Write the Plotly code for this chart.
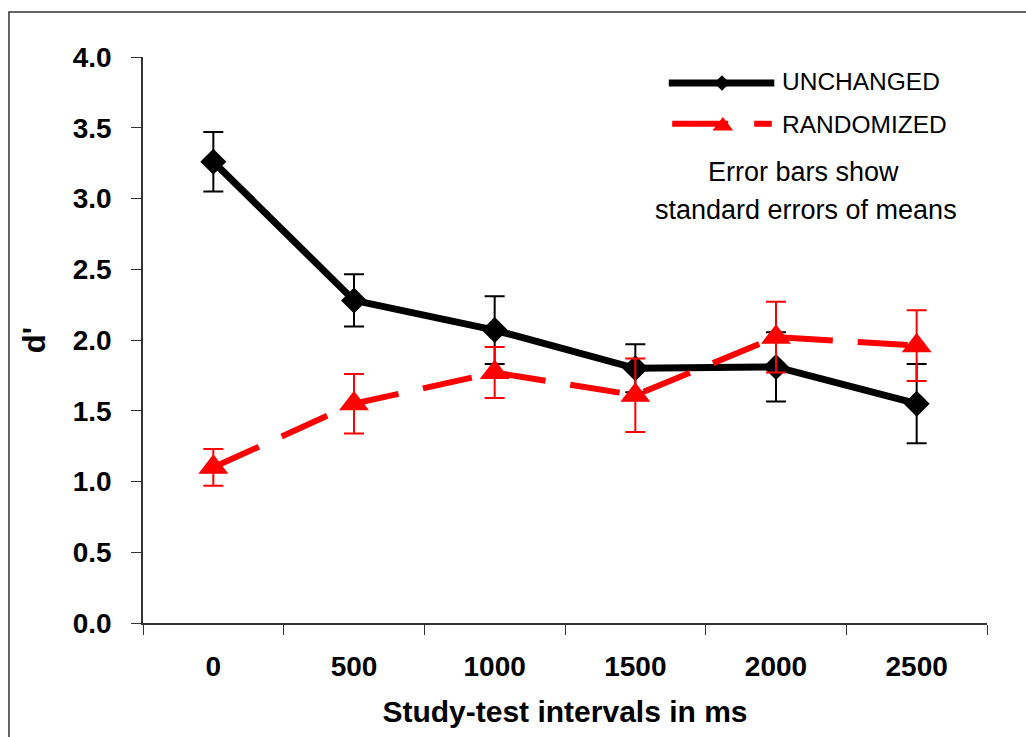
import plotly.graph_objects as go

# Study-test interval categories (ms)
intervals = ["0", "500", "1000", "1500", "2000", "2500"]

# Mean d' per condition and standard errors of the means
unchanged = [3.26, 2.28, 2.07, 1.80, 1.81, 1.55]
unchanged_se = [0.21, 0.185, 0.24, 0.17, 0.245, 0.28]
randomized = [1.10, 1.55, 1.77, 1.61, 2.02, 1.96]
randomized_se = [0.13, 0.21, 0.18, 0.26, 0.25, 0.25]

y_ticks = [0.0, 0.5, 1.0, 1.5, 2.0, 2.5, 3.0, 3.5, 4.0]

FONT = "Liberation Sans Narrow, Arial Narrow, Liberation Sans, Arial, sans-serif"
BLACK = "#000000"
RED = "#ff0000"
DASH = "50px,25px"

fig = go.Figure()

fig.add_trace(go.Scatter(
    x=intervals, y=unchanged, name="UNCHANGED", mode="lines+markers",
    line=dict(color=BLACK, width=7),
    marker=dict(symbol="diamond", size=20, color=BLACK),
    error_y=dict(type="data", array=unchanged_se, visible=True,
                 color=BLACK, thickness=2, width=10),
    showlegend=False,
))
fig.add_trace(go.Scatter(
    x=intervals, y=randomized, name="RANDOMIZED", mode="lines+markers",
    line=dict(color=RED, width=6, dash=DASH),
    marker=dict(symbol="triangle-up", size=26, color=RED),
    error_y=dict(type="data", array=randomized_se, visible=True,
                 color=RED, thickness=2, width=10),
    showlegend=False,
))

# Hand-drawn key on an overlay axis spanning the plot area (0..1)
fig.add_trace(go.Scatter(
    x=[0.623, 0.686, 0.748], y=[0.954, 0.954, 0.954], xaxis="x2", yaxis="y2",
    mode="lines", line=dict(color=BLACK, width=7), showlegend=False,
    hoverinfo="skip",
))
fig.add_trace(go.Scatter(
    x=[0.686], y=[0.954], xaxis="x2", yaxis="y2", mode="markers",
    marker=dict(symbol="diamond", size=12, color=BLACK), showlegend=False,
    hoverinfo="skip",
))
fig.add_trace(go.Scatter(
    x=[0.627, 0.745], y=[0.882, 0.882], xaxis="x2", yaxis="y2",
    mode="lines", line=dict(color=RED, width=6, dash="56px,26px"),
    showlegend=False, hoverinfo="skip",
))
fig.add_trace(go.Scatter(
    x=[0.687], y=[0.878], xaxis="x2", yaxis="y2", mode="markers",
    marker=dict(symbol="triangle-up", size=18, color=RED), showlegend=False,
    hoverinfo="skip",
))

key_font = dict(family=FONT, size=24.5, color=BLACK)
note_font = dict(family=FONT, size=27, color=BLACK)
annotations = [
    dict(text="UNCHANGED", x=0.7547, y=0.956, xanchor="left", font=key_font),
    dict(text="RANDOMIZED", x=0.7547, y=0.8816, xanchor="left", font=key_font),
    dict(text="Error bars show", x=0.782, y=0.797, xanchor="center", font=note_font),
    dict(text="standard errors of means", x=0.7856, y=0.7297, xanchor="center",
         font=note_font),
]
for a in annotations:
    fig.add_annotation(xref="paper", yref="paper", yanchor="middle",
                       showarrow=False, **a)

# Outer frame around the chart
fig.add_shape(type="rect", xref="paper", yref="paper",
              x0=-0.1588, x1=1.06, y0=-0.23, y1=1.0795,
              line=dict(color="#333333", width=1.5), layer="below")

tick_font = dict(family=FONT, size=28, color=BLACK, weight="bold")

fig.update_layout(
    width=1026, height=737,
    margin=dict(l=143, r=39, t=57, b=114),
    paper_bgcolor="white", plot_bgcolor="white",
    xaxis=dict(
        type="category", categoryorder="array", categoryarray=intervals,
        range=[-0.5, 5.5], tickson="boundaries",
        ticks="outside", ticklen=10, tickcolor="#333333", tickwidth=1,
        showline=True, linecolor="#333333", linewidth=1.5,
        showgrid=False, zeroline=False,
        tickfont=tick_font, ticklabelstandoff=18,
        title=dict(text="Study-test intervals in ms",
                   font=dict(family=FONT, size=30, color=BLACK, weight="bold"),
                   standoff=20),
    ),
    yaxis=dict(
        range=[0, 4], tickvals=y_ticks, tickformat=".1f",
        ticks="outside", ticklen=10, tickcolor="#333333", tickwidth=1,
        showline=True, linecolor="#333333", linewidth=1.5,
        showgrid=False, zeroline=False,
        tickfont=tick_font, ticklabelstandoff=14,
        title=dict(text="d'",
                   font=dict(family=FONT, size=31, color=BLACK, weight="bold"),
                   standoff=18),
    ),
    xaxis2=dict(overlaying="x", range=[0, 1], visible=False),
    yaxis2=dict(overlaying="y", range=[0, 1], visible=False),
)

fig.write_html("out.html")
